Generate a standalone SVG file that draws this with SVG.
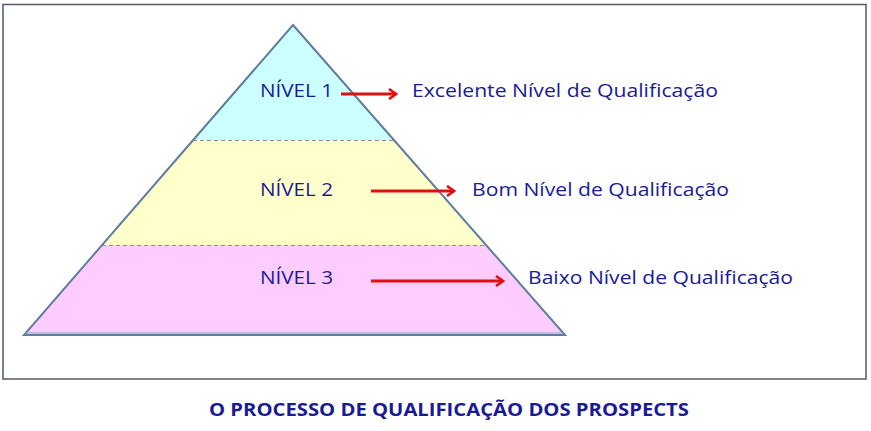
<svg xmlns="http://www.w3.org/2000/svg" width="871" height="431" viewBox="0 0 871 431">
<style>
.lbl{font-family:"Open Sans",Lato,"Liberation Sans",sans-serif;font-size:19px;fill:#1a1a96}
.ttl{font-family:"Open Sans",Lato,"Liberation Sans",sans-serif;font-size:18px;font-weight:bold;fill:#1a1a96}
.div{stroke:#8c8c9c;stroke-width:1;stroke-dasharray:4,3;fill:none}
.arr{stroke:#e01010;stroke-width:3;fill:none;marker-end:url(#ah)}
</style>
<defs>
<marker id="ah" viewBox="0 0 12 12" refX="10" refY="6" markerWidth="12" markerHeight="12" orient="auto" markerUnits="userSpaceOnUse">
<path d="M3,1 L10,6 L3,11" fill="none" stroke="#e01010" stroke-width="2.6" stroke-linejoin="miter"/>
</marker>
</defs>
<rect x="3" y="4.5" width="863" height="374.5" fill="#ffffff" stroke="#505a66" stroke-width="1.5"/>
<g id="level1">
<polygon points="293,25 394,140 193,140" fill="#ccffff"/>
<text class="lbl" x="260" y="97" textLength="73" lengthAdjust="spacingAndGlyphs">NÍVEL 1</text>
<text class="lbl" x="412" y="97" textLength="306" lengthAdjust="spacingAndGlyphs">Excelente Nível de Qualificação</text>
</g>
<g id="level2">
<polygon points="193,140 394,140 486,245 102,245" fill="#ffffcc"/>
<text class="lbl" x="260" y="196" textLength="73" lengthAdjust="spacingAndGlyphs">NÍVEL 2</text>
<text class="lbl" x="472" y="196" textLength="257" lengthAdjust="spacingAndGlyphs">Bom Nível de Qualificação</text>
</g>
<g id="level3">
<polygon points="102,245 486,245 565,335 24,335" fill="#ffccff"/>
<text class="lbl" x="260" y="284" textLength="73" lengthAdjust="spacingAndGlyphs">NÍVEL 3</text>
<text class="lbl" x="528" y="284" textLength="265" lengthAdjust="spacingAndGlyphs">Baixo Nível de Qualificação</text>
</g>
<g id="pyramid-outline">
<line class="div" x1="193" y1="140.5" x2="394" y2="140.5"/>
<line class="div" x1="102" y1="245.5" x2="486" y2="245.5"/>
<polygon points="293,25 565,335 24,335" fill="none" stroke="#5f7d9c" stroke-width="2" stroke-linejoin="miter"/>
<line x1="25" y1="333" x2="563" y2="333" stroke="#8fa3c8" stroke-width="1"/>
</g>
<g id="connectors">
<line class="arr" x1="341" y1="94" x2="396" y2="94"/>
<line class="arr" x1="371" y1="191" x2="454" y2="191"/>
<line class="arr" x1="371" y1="281" x2="503" y2="281"/>
</g>
<g id="title">
<text class="ttl" x="209" y="416" textLength="480" lengthAdjust="spacingAndGlyphs">O PROCESSO DE QUALIFICAÇÃO DOS PROSPECTS</text>
</g>
</svg>
